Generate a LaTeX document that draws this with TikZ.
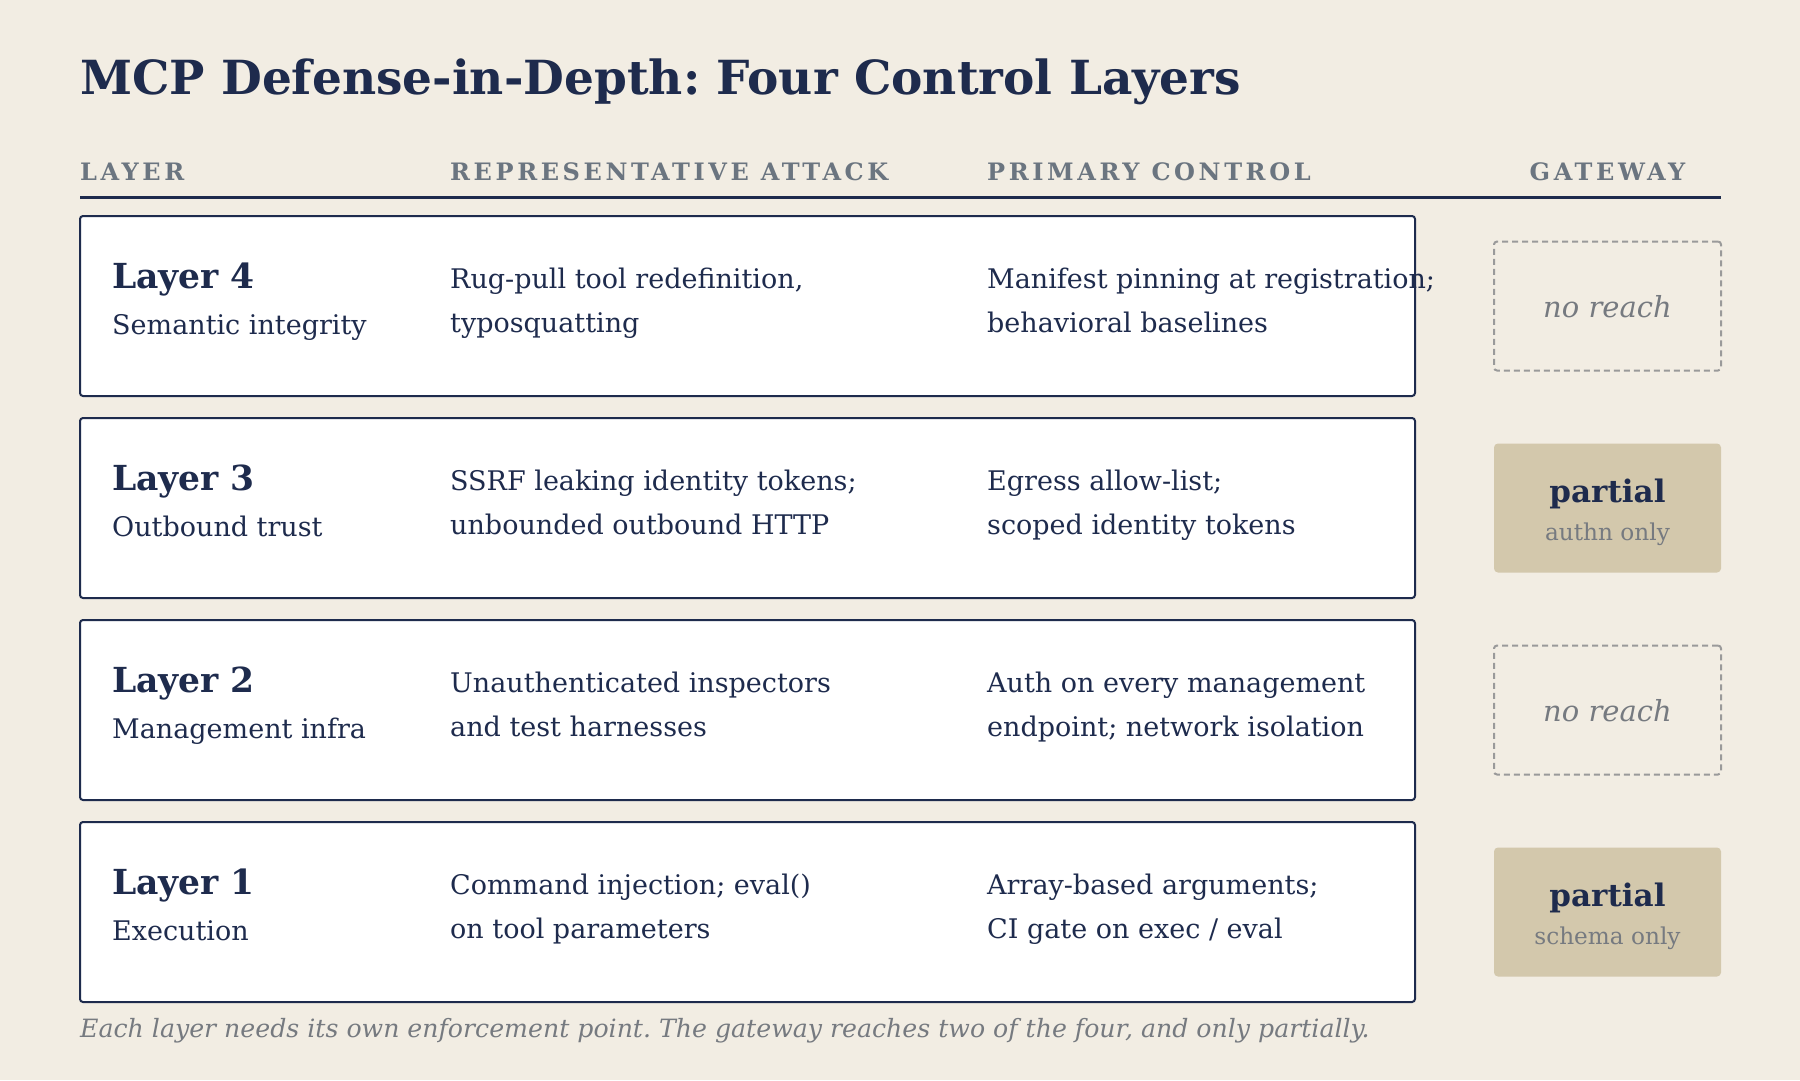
\documentclass[tikz,border=0pt]{standalone}
\usepackage{fontspec}
\setmainfont{DejaVu Serif}
\frenchspacing
\definecolor{bg}{HTML}{F2EDE3}
\definecolor{navy}{HTML}{1E2B4D}
\definecolor{hdrgray}{HTML}{6B7580}
\definecolor{softgray}{HTML}{767A80}
\definecolor{dashgray}{HTML}{9A9A9A}
\definecolor{tan}{HTML}{D3C8AC}
\tikzset{
  txt/.style={anchor=base west, inner sep=0pt, text=navy},
  titletxt/.style={txt, font=\bfseries\fontsize{47}{56}\selectfont},
  hdr/.style={anchor=base west, inner sep=0pt, text=hdrgray, font=\bfseries\fontsize{24}{28}\selectfont\addfontfeature{LetterSpace=15}},
  lbl/.style={txt, font=\bfseries\fontsize{34.5}{40}\selectfont},
  body/.style={txt, font=\fontsize{27}{32}\selectfont},
  rowbox/.style={draw=navy, line width=2pt, fill=white, rounded corners=3pt, minimum width=1335pt, minimum height=180pt, inner sep=0pt},
  gwnone/.style={draw=dashgray, line width=2pt, dash pattern=on 6pt off 4pt, rounded corners=3pt, minimum width=227pt, minimum height=129pt, inner sep=0pt},
  gwpart/.style={fill=tan, rounded corners=4pt, minimum width=227pt, minimum height=129pt, inner sep=0pt},
  noreach/.style={anchor=base, inner sep=0pt, text=softgray, font=\itshape\fontsize{29}{32}\selectfont},
  parttxt/.style={anchor=base, inner sep=0pt, text=navy, font=\bfseries\fontsize{31}{36}\selectfont},
  partsub/.style={anchor=base, inner sep=0pt, text=softgray, font=\fontsize{23.2}{27}\selectfont},
}
\begin{document}
\begin{tikzpicture}[x=1pt,y=-1pt]
\useasboundingbox[fill=bg] (0,0) rectangle (1800,1080);
\node[titletxt] (title) at (80,94) {MCP Defense-in-Depth: Four Control Layers};
\node[hdr] (hlayer) at (80,180) {LAYER};
\node[hdr] (hattack) at (450,180) {REPRESENTATIVE ATTACK};
\node[hdr] (hcontrol) at (987,180) {PRIMARY CONTROL};
\node[hdr, anchor=base] (hgw) at (1607.5,180) {GATEWAY};
\coordinate (rl) at (80,197.5);
\coordinate (rr) at (1721,197.5);
\draw[navy, line width=2.5pt] (rl) -- (rr);
% Layer 4
\node[rowbox] (row4) at (747.5,306) {};
\node[lbl] (l4) at (112,288.5) {Layer 4};
\node[body] (s4) at (112,334) {Semantic integrity};
\node[body] (a4a) at (450,288) {Rug-pull tool redefinition,};
\node[body] (a4b) at (450,332) {typosquatting};
\node[body] (c4a) at (987,288) {Manifest pinning at registration;};
\node[body] (c4b) at (987,332) {behavioral baselines};
\node[gwnone] (g4) at (1607.5,306) {};
\node[noreach] (g4t) at (1607.5,317) {no reach};
% Layer 3
\node[rowbox] (row3) at (747.5,508) {};
\node[lbl] (l3) at (112,490.5) {Layer 3};
\node[body] (s3) at (112,536) {Outbound trust};
\node[body] (a3a) at (450,490) {SSRF leaking identity tokens;};
\node[body] (a3b) at (450,534) {unbounded outbound HTTP};
\node[body] (c3a) at (987,490) {Egress allow-list;};
\node[body] (c3b) at (987,534) {scoped identity tokens};
\node[gwpart] (g3) at (1607.5,508) {};
\node[parttxt] (g3t) at (1607.5,502) {partial};
\node[partsub] (g3s) at (1607.5,540) {authn only};
% Layer 2
\node[rowbox] (row2) at (747.5,710) {};
\node[lbl] (l2) at (112,692.5) {Layer 2};
\node[body] (s2) at (112,738) {Management infra};
\node[body] (a2a) at (450,692) {Unauthenticated inspectors};
\node[body] (a2b) at (450,736) {and test harnesses};
\node[body] (c2a) at (987,692) {Auth on every management};
\node[body] (c2b) at (987,736) {endpoint; network isolation};
\node[gwnone] (g2) at (1607.5,710) {};
\node[noreach] (g2t) at (1607.5,721) {no reach};
% Layer 1
\node[rowbox] (row1) at (747.5,912) {};
\node[lbl] (l1) at (112,894.5) {Layer 1};
\node[body] (s1) at (112,940) {Execution};
\node[body] (a1a) at (450,894) {Command injection; eval()};
\node[body] (a1b) at (450,938) {on tool parameters};
\node[body] (c1a) at (987,894) {Array-based arguments;};
\node[body] (c1b) at (987,938) {CI gate on exec / eval};
\node[gwpart] (g1) at (1607.5,912) {};
\node[parttxt] (g1t) at (1607.5,906) {partial};
\node[partsub] (g1s) at (1607.5,944) {schema only};
% footnote
\node[anchor=base west, inner sep=0pt, text=softgray, font=\itshape\fontsize{25.2}{30}\selectfont] (foot) at (80,1037) {Each layer needs its own enforcement point. The gateway reaches two of the four, and only partially.};
\end{tikzpicture}
\end{document}
